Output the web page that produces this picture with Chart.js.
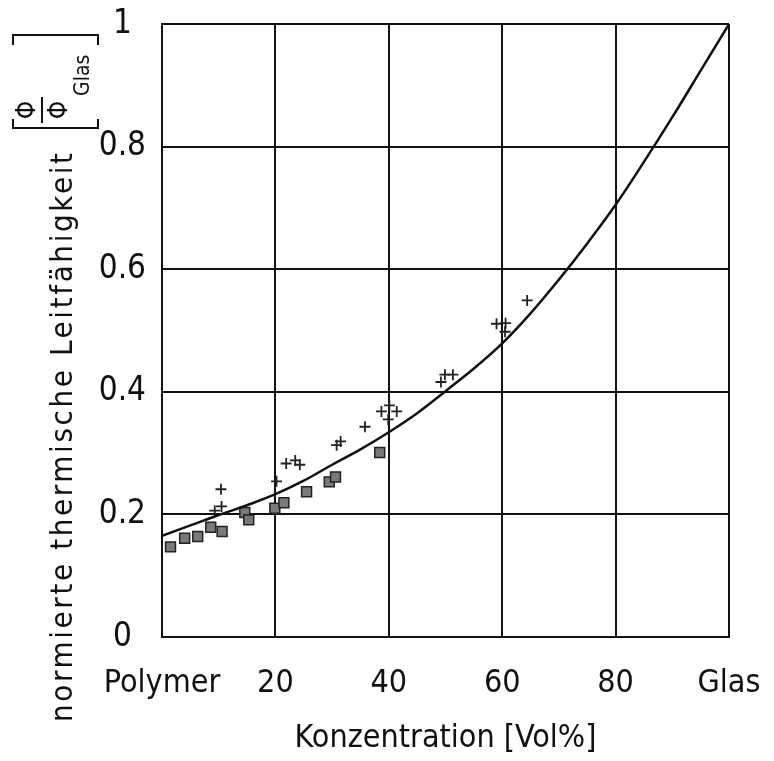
<!DOCTYPE html>
<html>
<head>
<meta charset="utf-8">
<script src="https://cdn.jsdelivr.net/npm/chart.js@4.4.0/dist/chart.umd.min.js"></script>
<style>
  html, body { margin: 0; padding: 0; background: #fff; }
</style>
</head>
<body>
<canvas id="myChart" width="774" height="761"></canvas>
<script>
// tick labels
var xTickLabels = ['Polymer', '20', '40', '60', '80', 'Glas'];
var yTickLabels = ['0', '0.2', '0.4', '0.6', '0.8', '1'];

// gefuellte Quadrate
var squareX = [1.5, 4.0, 6.3, 8.6, 10.6, 14.6, 15.3, 19.9, 21.5, 25.5, 29.5, 30.6, 38.4];
var squareY = [0.147, 0.161, 0.164, 0.179, 0.172, 0.203, 0.191, 0.210, 0.219, 0.237, 0.253, 0.261, 0.301];

// Kreuze
var crossX = [9.3, 10.5, 10.4, 20.2, 21.9, 23.5, 24.3, 30.8, 31.5, 35.8, 38.7, 39.9, 40.1, 41.4, 49.2, 49.9, 51.3, 59.0, 60.5, 60.6, 64.4];
var crossY = [0.206, 0.213, 0.241, 0.254, 0.283, 0.288, 0.281, 0.313, 0.319, 0.343, 0.368, 0.355, 0.378, 0.368, 0.416, 0.428, 0.428, 0.511, 0.498, 0.512, 0.549];

// Kurve
var curveX = [0, 5, 10, 15, 20, 25, 30, 35, 40, 45, 50, 55, 60, 65, 70, 75, 80, 85, 90, 95, 100];
var curveY = [0.165, 0.182, 0.199, 0.215, 0.233, 0.255, 0.281, 0.306, 0.334, 0.365, 0.401, 0.438, 0.479, 0.528, 0.583, 0.642, 0.705, 0.775, 0.848, 0.924, 1.0];

var yTitle = 'normierte thermische Leitfähigkeit';

var FONT = "'DejaVu Sans Condensed', 'Liberation Sans Narrow', 'DejaVu Sans', sans-serif";
var INK = '#111';

function pts(xs, ys) {
    return xs.map(function (x, i) { return { x: x, y: ys[i] }; });
}

// y axis title with the bracket [ Phi / Phi_Glas ]
var yTitlePlugin = {
    id: 'yTitle',
    afterDraw: function (chart) {
        var ctx = chart.ctx;
        ctx.save();
        ctx.fillStyle = INK;
        ctx.strokeStyle = INK;

        ctx.save();
        ctx.translate(72, 722);
        ctx.rotate(-Math.PI / 2);
        ctx.font = '31px ' + FONT;
        ctx.textAlign = 'left';
        ctx.textBaseline = 'alphabetic';
        var w = ctx.measureText(yTitle).width;
        ctx.letterSpacing = ((569 - w) / (yTitle.length - 1)) + 'px';
        ctx.fillText(yTitle, 0, 0);
        ctx.restore();

        // bracket
        ctx.lineWidth = 2;
        ctx.beginPath();
        ctx.moveTo(13, 119); ctx.lineTo(13, 128); ctx.lineTo(98, 128); ctx.lineTo(98, 119);
        ctx.moveTo(13, 45); ctx.lineTo(13, 35); ctx.lineTo(98, 35); ctx.lineTo(98, 45);
        // fraction line
        ctx.moveTo(42, 97); ctx.lineTo(42, 123);
        ctx.stroke();

        ctx.save();
        ctx.rotate(-Math.PI / 2);
        ctx.textAlign = 'center';
        ctx.textBaseline = 'alphabetic';
        ctx.font = '26px ' + FONT;
        ctx.fillText('Φ', -110, 35);
        ctx.fillText('Φ', -110, 67);
        ctx.font = '21px ' + FONT;
        ctx.textAlign = 'left';
        ctx.fillText('Glas', -96, 89);
        ctx.restore();

        ctx.restore();
    }
};

var ctx = document.getElementById('myChart').getContext('2d');
var chart = new Chart(ctx, {
    type: 'scatter',
    data: {
        datasets: [
            {
                type: 'line',
                label: 'Kurve',
                data: pts(curveX, curveY),
                borderColor: INK,
                borderWidth: 2.5,
                pointRadius: 0,
                tension: 0.4,
                fill: false
            },
            {
                label: 'Quadrate',
                data: pts(squareX, squareY),
                pointStyle: 'rect',
                pointRadius: 7,
                backgroundColor: '#7a7a7a',
                borderColor: '#222',
                borderWidth: 1.5
            },
            {
                label: 'Kreuze',
                data: pts(crossX, crossY),
                pointStyle: 'cross',
                pointRadius: 5.5,
                borderColor: '#222',
                borderWidth: 1.8
            }
        ]
    },
    options: {
        responsive: false,
        animation: false,
        layout: { padding: { top: 24, right: 45, bottom: 0, left: 0 } },
        plugins: {
            legend: { display: false },
            tooltip: { enabled: false }
        },
        scales: {
            x: {
                type: 'linear',
                min: 0,
                max: 100,
                afterFit: function (s) {
                    s.height = 124;
                    s.paddingLeft = 0;
                    s.paddingRight = 0;
                },
                ticks: {
                    stepSize: 20,
                    autoSkip: false,
                    padding: 27,
                    color: INK,
                    font: { family: FONT, size: 32 },
                    maxRotation: 0,
                    callback: function (v) { return xTickLabels[Math.round(v / 20)]; }
                },
                grid: { color: INK, lineWidth: 2, drawTicks: false },
                border: { color: INK, width: 2 },
                title: {
                    display: true,
                    text: 'Konzentration [Vol%]',
                    color: INK,
                    font: { family: FONT, size: 32 },
                    padding: { top: 0, bottom: 3 }
                }
            },
            y: {
                min: 0,
                max: 1,
                afterFit: function (s) {
                    s.width = 162;
                    s.paddingTop = 0;
                    s.paddingBottom = 0;
                },
                ticks: {
                    stepSize: 0.2,
                    autoSkip: false,
                    padding: 16,
                    crossAlign: 'center',
                    color: INK,
                    font: { family: FONT, size: 33 },
                    callback: function (v) { return yTickLabels[Math.round(v * 5)]; }
                },
                grid: { color: INK, lineWidth: 2, drawTicks: false },
                border: { color: INK, width: 2 }
            }
        }
    },
    plugins: [yTitlePlugin]
});
</script>
</body>
</html>
